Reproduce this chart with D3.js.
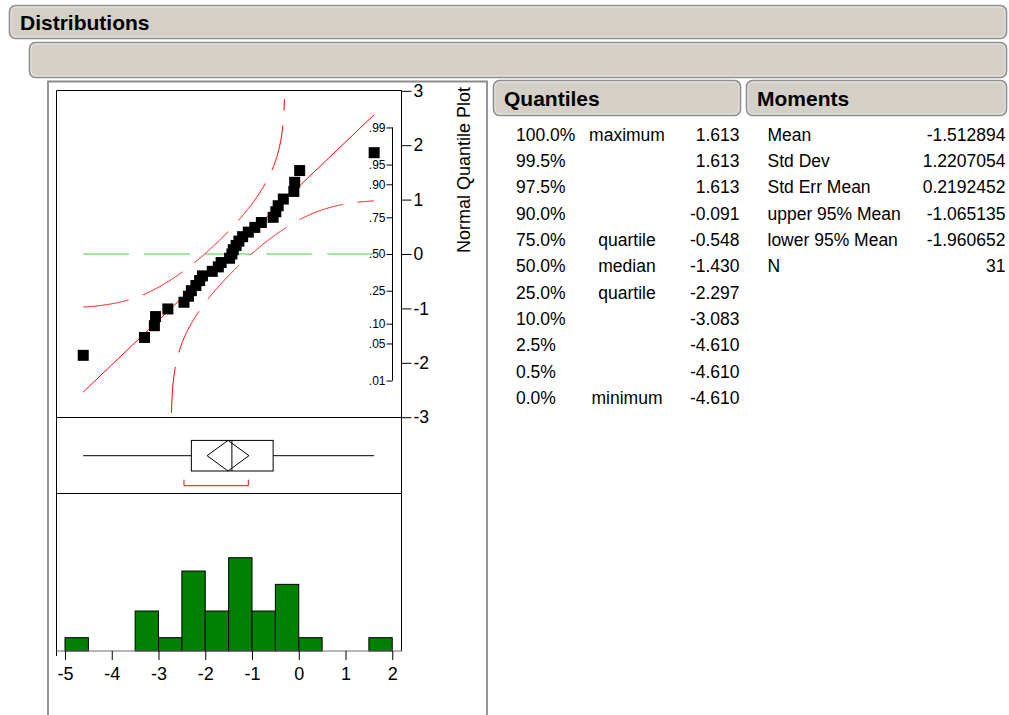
<!DOCTYPE html>
<html><head><meta charset="utf-8">
<script src="https://cdn.jsdelivr.net/npm/d3@7"></script>
<style>
body{margin:0;background:#fff;}
svg{display:block;font-family:"Liberation Sans",Arial,Helvetica,sans-serif;}
</style></head><body>
<svg id="chart" width="1009" height="715"></svg>
<script>
// Sorted sample (n = 31)
const values = [-4.610, -3.30, -3.088, -3.063, -2.80, -2.455, -2.36, -2.297, -2.20, -2.12, -2.06,
  -1.85, -1.72, -1.66, -1.48, -1.430, -1.40, -1.34, -1.28, -1.20, -1.079,
  -0.94, -0.80, -0.548, -0.49, -0.44, -0.33, -0.105, -0.087, 0.02, 1.613];

const quantileLabels = ["100.0%","99.5%","97.5%","90.0%","75.0%","50.0%","25.0%","10.0%","2.5%","0.5%","0.0%"];
const quantileNotes  = ["maximum","","","","quartile","median","quartile","","","","minimum"];
const quantileValues = ["1.613","1.613","1.613","-0.091","-0.548","-1.430","-2.297","-3.083","-4.610","-4.610","-4.610"];

const momentLabels = ["Mean","Std Dev","Std Err Mean","upper 95% Mean","lower 95% Mean","N"];
const momentValues = ["-1.512894","1.2207054","0.2192452","-1.065135","-1.960652","31"];

const xTicks = [-5,-4,-3,-2,-1,0,1,2];
const zTicks = [-3,-2,-1,0,1,2,3];
const probTicks = [0.01,0.05,0.10,0.25,0.50,0.75,0.90,0.95,0.99];
const shortestHalf = [-2.455, -1.079];
const binEdges = [-5,-4.5,-4,-3.5,-3,-2.5,-2,-1.5,-1,-0.5,0,0.5,1,1.5,2];

// ---- normal distribution helpers ----
function erf(x){
  const t = 1/(1+0.3275911*Math.abs(x));
  const y = 1-(((((1.061405429*t-1.453152027)*t)+1.421413741)*t-0.284496736)*t+0.254829592)*t*Math.exp(-x*x);
  return x>=0?y:-y;
}
const Phi = x => 0.5*(1+erf(x/Math.SQRT2));
function probit(p){
  const a=[-3.969683028665376e+01,2.209460984245205e+02,-2.759285104469687e+02,1.383577518672690e+02,-3.066479806614716e+01,2.506628277459239e+00];
  const b=[-5.447609879822406e+01,1.615858368580409e+02,-1.556989798598866e+02,6.680131188771972e+01,-1.328068155288572e+01];
  const c=[-7.784894002430293e-03,-3.223964580411365e-01,-2.400758277161838e+00,-2.549732539343734e+00,4.374664141464968e+00,2.938163982698783e+00];
  const d=[7.784695709041462e-03,3.224671290700398e-01,2.445134137142996e+00,3.754408661907416e+00];
  const pl=0.02425, ph=1-pl; let q,r;
  if(p<pl){q=Math.sqrt(-2*Math.log(p));return (((((c[0]*q+c[1])*q+c[2])*q+c[3])*q+c[4])*q+c[5])/((((d[0]*q+d[1])*q+d[2])*q+d[3])*q+1);}
  if(p<=ph){q=p-0.5;r=q*q;return (((((a[0]*r+a[1])*r+a[2])*r+a[3])*r+a[4])*r+a[5])*q/(((((b[0]*r+b[1])*r+b[2])*r+b[3])*r+b[4])*r+1);}
  q=Math.sqrt(-2*Math.log(1-p));return -(((((c[0]*q+c[1])*q+c[2])*q+c[3])*q+c[4])*q+c[5])/((((d[0]*q+d[1])*q+d[2])*q+d[3])*q+1);
}

const svg = d3.select("#chart");
const n = values.length;
const mean = +momentValues[0], sd = +momentValues[1];
const up95 = +momentValues[3], lo95 = +momentValues[4];
const q1 = +quantileValues[6], med = +quantileValues[5], q3 = +quantileValues[4];
const vMin = d3.min(values), vMax = d3.max(values);

// ---- report outline headers ----
function header(x, y, w, h, label){
  svg.append("rect").attr("x",x).attr("y",y).attr("width",w).attr("height",h)
    .attr("rx",6).attr("fill","#d4d0c8").attr("stroke","#8e8e8e").attr("stroke-width",1.6);
  svg.append("rect").attr("x",x+1.5).attr("y",y+1.5).attr("width",w-3).attr("height",h-3)
    .attr("rx",5).attr("fill","none").attr("stroke","#ecebe7").attr("stroke-width",0.8);
  if(label) svg.append("text").attr("x",x+10.5).attr("y",y+h/2+7.5).attr("font-size",21)
    .attr("font-weight","bold").attr("fill","#000").text(label);
}
header(9.5, 5.5, 997, 33, "Distributions");
header(29.5, 42.5, 977, 35, "");
header(493.5, 80.5, 247, 35, "Quantiles");
header(746.5, 80.5, 260, 35, "Moments");

// ---- scales ----
const x = d3.scaleLinear().domain([-5,2]).range([65,392.25]);
const z = d3.scaleLinear().domain([-3,3]).range([417.2,90.8]);
const histBase = 651;
const hy = d3.scaleLinear().domain([0,7]).range([histBase, histBase-93.3]);

// ---- panel frames ----
svg.append("path").attr("d","M48,715V81.5H487V715").attr("fill","none")
  .attr("stroke","#8a8a8a").attr("stroke-width",1.8);
const frame = svg.append("g").attr("stroke","#000").attr("stroke-width",1).attr("fill","none");
frame.append("path").attr("d","M56.5,656V90.5H401.5V651");
frame.append("line").attr("x1",56.5).attr("x2",401.5).attr("y1",417.5).attr("y2",417.5);
frame.append("line").attr("x1",56.5).attr("x2",401.5).attr("y1",493.5).attr("y2",493.5);

// ---- normal quantile plot ----
svg.append("clipPath").attr("id","qclip").append("rect")
  .attr("x",57).attr("y",91).attr("width",344).attr("height",326);
const qp = svg.append("g").attr("clip-path","url(#qclip)");

// zero reference (median probability) line
qp.append("line").attr("x1",x(vMin)).attr("x2",x(vMax)).attr("y1",z(0)).attr("y2",z(0))
  .attr("stroke","#45cf45").attr("stroke-width",1.2).attr("stroke-dasharray","46,15");

// fitted normal line
qp.append("line")
  .attr("x1",x(vMin)).attr("y1",z((vMin-mean)/sd))
  .attr("x2",x(vMax)).attr("y2",z((vMax-mean)/sd))
  .attr("stroke","#ff0000").attr("stroke-width",1);

// Lilliefors confidence bands
const D = 0.886/Math.sqrt(n);
const xs = d3.range(0,601).map(i => vMin + (vMax-vMin)*i/600);
const bandLine = d3.line().defined(d => d[1]!==null && Math.abs(d[1])<3.4)
  .x(d => x(d[0])).y(d => z(d[1]));
const upperBand = xs.map(v => { const p = Phi((v-mean)/sd)+D; return [v, p<1 ? probit(p) : null]; });
const lowerBand = xs.map(v => { const p = Phi((v-mean)/sd)-D; return [v, p>0 ? probit(p) : null]; });
[upperBand, lowerBand].forEach(b => qp.append("path").attr("d", bandLine(b))
  .attr("fill","none").attr("stroke","#ff0000").attr("stroke-width",1).attr("stroke-dasharray","46,15"));

// points at normal scores
qp.selectAll("rect.pt").data(values).join("rect").attr("class","pt")
  .attr("x", d => x(d)-5.5).attr("y", (d,i) => z(probit((i+1)/(n+1)))-5.5)
  .attr("width",11).attr("height",11).attr("fill","#000");

// probability axis
const pAxis = d3.axisLeft(z).tickValues(probTicks.map(probit)).tickSize(6).tickPadding(1)
  .tickFormat((d,i) => d3.format(".2f")(probTicks[i]).slice(1));
const pg = svg.append("g").attr("transform","translate(392.5,0)").call(pAxis);
pg.select(".domain").remove();
pg.selectAll("text").attr("font-size",12).attr("font-family","Liberation Sans, Arial, sans-serif");
svg.append("line").attr("x1",392.5).attr("x2",392.5)
  .attr("y1",z(probit(0.99))).attr("y2",z(probit(0.01))).attr("stroke","#000");

// normal quantile axis
const zAxis = d3.axisRight(z).tickValues(zTicks).tickSize(10).tickPadding(2).tickFormat(d => String(d));
const zg = svg.append("g").attr("transform","translate(401.5,0)").call(zAxis);
zg.select(".domain").remove();
zg.selectAll("text").attr("font-size",17.5).attr("font-family","Liberation Sans, Arial, sans-serif");
svg.append("text").attr("transform","translate(470,170) rotate(-90)")
  .attr("text-anchor","middle").attr("font-size",18).text("Normal Quantile Plot");

// ---- outlier box plot ----
const by = 455.7, bh = 15.3;
const iqr = q3-q1;
const wLo = d3.min(values.filter(v => v >= q1-1.5*iqr));
const wHi = d3.max(values.filter(v => v <= q3+1.5*iqr));
const bp = svg.append("g").attr("stroke","#000").attr("stroke-width",1).attr("fill","none");
bp.append("line").attr("x1",x(wLo)).attr("x2",x(q1)).attr("y1",by).attr("y2",by);
bp.append("line").attr("x1",x(q3)).attr("x2",x(wHi)).attr("y1",by).attr("y2",by);
bp.append("rect").attr("x",x(q1)).attr("y",by-bh).attr("width",x(q3)-x(q1)).attr("height",2*bh);
bp.append("line").attr("x1",x(med)).attr("x2",x(med)).attr("y1",by-bh).attr("y2",by+bh);
bp.append("path").attr("d",`M${x(lo95)},${by}L${x(mean)},${by-bh}L${x(up95)},${by}L${x(mean)},${by+bh}Z`);
// shortest half bracket
svg.append("path")
  .attr("d",`M${x(shortestHalf[0])},${by+24}V${by+30}H${x(shortestHalf[1])}V${by+24}`)
  .attr("fill","none").attr("stroke","#ff0000").attr("stroke-width",1);

// ---- histogram ----
const bins = d3.bin().domain([binEdges[0], binEdges[binEdges.length-1]])
  .thresholds(binEdges.slice(1,-1))(values);
svg.append("g").selectAll("rect").data(bins.filter(b => b.length>0)).join("rect")
  .attr("x", b => x(b.x0)).attr("width", b => x(b.x1)-x(b.x0))
  .attr("y", b => hy(b.length)).attr("height", b => histBase-hy(b.length))
  .attr("fill","#008000").attr("stroke","#000").attr("stroke-width",1);

svg.append("line").attr("x1",56.5).attr("x2",402).attr("y1",histBase).attr("y2",histBase)
  .attr("stroke","#6e6e6e").attr("stroke-width",1.2);
const xAxis = d3.axisBottom(x).tickValues(xTicks).tickSize(9).tickPadding(7).tickFormat(d => String(d));
const xg = svg.append("g").attr("transform",`translate(0,${histBase})`).call(xAxis);
xg.select(".domain").remove();
xg.selectAll("text").attr("font-size",18).attr("font-family","Liberation Sans, Arial, sans-serif");

// ---- quantiles table ----
const rowY = i => 140.7 + i*26.33;
const qt = svg.append("g").attr("font-size",17.5).attr("fill","#000");
quantileLabels.forEach((t,i) => {
  qt.append("text").attr("x",516).attr("y",rowY(i)).text(t);
  if(quantileNotes[i]) qt.append("text").attr("x",627).attr("y",rowY(i)).attr("text-anchor","middle").text(quantileNotes[i]);
  qt.append("text").attr("x",739.5).attr("y",rowY(i)).attr("text-anchor","end").text(quantileValues[i]);
});

// ---- moments table ----
momentLabels.forEach((t,i) => {
  qt.append("text").attr("x",767.5).attr("y",rowY(i)).text(t);
  qt.append("text").attr("x",1005.5).attr("y",rowY(i)).attr("text-anchor","end").text(momentValues[i]);
});
</script>
</body></html>
